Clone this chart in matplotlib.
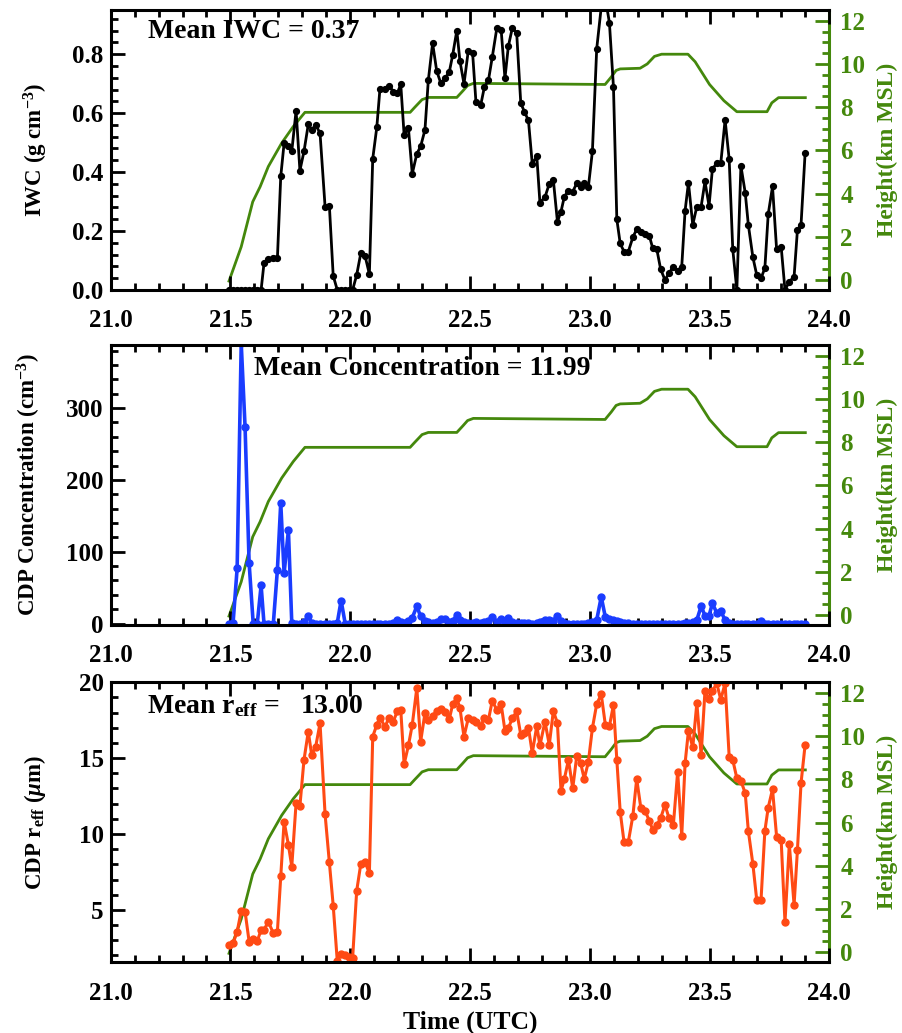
import numpy as np
import matplotlib
matplotlib.use("Agg")
import matplotlib.pyplot as plt
from matplotlib.ticker import MultipleLocator

plt.rcParams['font.family'] = ['Liberation Serif', 'DejaVu Serif']
plt.rcParams['font.weight'] = 'bold'
plt.rcParams['mathtext.fontset'] = 'custom'
plt.rcParams['mathtext.rm'] = 'Liberation Serif:bold'
plt.rcParams['mathtext.it'] = 'Liberation Serif:italic:bold'
plt.rcParams['mathtext.bf'] = 'Liberation Serif:bold'

# ---------------------------------------------------------------------------
# Datos (1 punto por minuto aprox.)
time_utc = [
    21.494, 21.511, 21.528, 21.545, 21.561, 21.578, 21.595, 21.612, 21.628, 21.640,
    21.658, 21.679, 21.696, 21.710, 21.724, 21.742, 21.756, 21.774, 21.790, 21.807,
    21.825, 21.839, 21.856, 21.874, 21.895, 21.913, 21.929, 21.946, 21.962, 21.979,
    21.995, 22.010, 22.027, 22.044, 22.062, 22.080, 22.094, 22.111, 22.124, 22.145,
    22.163, 22.180, 22.197, 22.211, 22.225, 22.243, 22.259, 22.278, 22.294, 22.312,
    22.326, 22.344, 22.361, 22.378, 22.396, 22.414, 22.428, 22.445, 22.458, 22.475,
    22.493, 22.511, 22.525, 22.545, 22.560, 22.577, 22.593, 22.612, 22.630, 22.646,
    22.660, 22.677, 22.695, 22.712, 22.727, 22.744, 22.760, 22.779, 22.792, 22.813,
    22.831, 22.848, 22.865, 22.880, 22.894, 22.911, 22.929, 22.946, 22.962, 22.977,
    22.994, 23.011, 23.029, 23.048, 23.065, 23.082, 23.099, 23.113, 23.127, 23.143,
    23.161, 23.180, 23.196, 23.213, 23.231, 23.249, 23.263, 23.280, 23.296, 23.314,
    23.331, 23.349, 23.367, 23.384, 23.398, 23.412, 23.430, 23.447, 23.465, 23.481,
    23.498, 23.512, 23.530, 23.547, 23.565, 23.582, 23.597, 23.614, 23.631, 23.649,
    23.662, 23.681, 23.697, 23.715, 23.731, 23.745, 23.763, 23.780, 23.799, 23.815,
    23.833, 23.853, 23.867, 23.882, 23.899]

iwc = [
    0, 0, 0, 0, 0, 0, 0, 0, 0, 0.090,
    0.104, 0.107, 0.107, 0.385, 0.498, 0.487, 0.470, 0.608, 0.405, 0.470,
    0.562, 0.543, 0.560, 0.532, 0.283, 0.285, 0.048, 0, 0, 0,
    0, 0, 0.051, 0.124, 0.115, 0.054, 0.445, 0.552, 0.681, 0.681,
    0.692, 0.673, 0.668, 0.698, 0.526, 0.549, 0.394, 0.462, 0.487, 0.543,
    0.711, 0.837, 0.743, 0.702, 0.718, 0.741, 0.798, 0.880, 0.777, 0.699,
    0.812, 0.803, 0.636, 0.628, 0.688, 0.711, 0.790, 0.888, 0.883, 0.718,
    0.826, 0.890, 0.871, 0.634, 0.605, 0.575, 0.428, 0.453, 0.296, 0.315,
    0.360, 0.373, 0.232, 0.266, 0.317, 0.337, 0.334, 0.362, 0.348, 0.362,
    0.348, 0.470, 0.818, 0.960, 0.990, 0.907, 0.688, 0.240, 0.158, 0.130,
    0.130, 0.179, 0.206, 0.198, 0.190, 0.183, 0.141, 0.138, 0.070, 0.034,
    0.057, 0.079, 0.066, 0.079, 0.269, 0.364, 0.221, 0.283, 0.283, 0.368,
    0.285, 0.410, 0.430, 0.430, 0.577, 0.444, 0.138, 0.0, 0.421, 0.330,
    0.221, 0.111, 0.051, 0.040, 0.074, 0.257, 0.351, 0.138, 0.147, 0.0,
    0.028, 0.045, 0.204, 0.221, 0.464]

cdp_conc = [
    0, 1, 77, 390, 274, 84, 0, 0, 53, 0,
    0, 0, 75, 168, 70, 130, 1, 0, 0, 2,
    10, 1, 0, 0, 0, 0, 0, 1, 32, 0,
    0, 0, 0, 0, 0, 0, 0, 0, 0, 0,
    0, 1, 5, 2, 1, 3, 8, 24, 10, 3,
    2, 1, 2, 6, 6, 2, 3, 12, 5, 2,
    1, 1, 2, 1, 2, 3, 9, 2, 7, 2,
    8, 2, 1, 1, 1, 1, 0, 1, 2, 5,
    5, 3, 11, 4, 1, 0, 0, 0, 0, 0,
    1, 2, 5, 37, 9, 6, 5, 3, 2, 1,
    1, 0, 0, 0, 0, 0, 0, 0, 0, 0,
    0, 0, 0, 0, 1, 1, 2, 5, 24, 11,
    11, 28, 15, 17, 5, 1, 0, 0, 0, 0,
    0, 0, 0, 3, 0, 0, 0, 0, 0, 0,
    0, 0, 0, 0, 0]

cdp_reff = [
    2.69, 2.80, 3.57, 4.93, 4.89, 2.91, 3.09, 2.95, 3.68, 3.68,
    4.23, 3.46, 3.57, 7.24, 10.82, 9.28, 7.85, 12.03, 11.85, 14.88,
    16.75, 15.21, 15.76, 17.30, 11.31, 8.14, 5.28, 1.63, 2.07, 2.00,
    1.90, 1.81, 6.25, 8.01, 8.14, 7.42, 16.42, 17.19, 17.67, 17.08,
    17.67, 17.41, 18.11, 18.18, 14.60, 15.83, 17.19, 19.61, 16.09, 17.96,
    17.52, 17.74, 18.11, 18.25, 18.03, 17.59, 18.56, 18.95, 18.29, 16.42,
    17.63, 17.52, 17.41, 17.13, 17.63, 17.52, 18.77, 18.18, 18.56, 16.80,
    16.97, 17.63, 18.07, 16.53, 16.64, 17.01, 15.33, 17.13, 15.83, 17.41,
    15.87, 18.11, 17.30, 12.84, 13.63, 14.88, 13.02, 15.17, 14.67, 13.63,
    14.73, 16.97, 18.56, 19.20, 17.20, 17.10, 18.51, 14.88, 11.48, 9.48,
    9.48, 11.20, 13.63, 11.74, 11.52, 10.86, 10.27, 10.60, 11.04, 11.92,
    11.04, 10.60, 14.11, 9.87, 14.67, 16.80, 15.70, 18.62, 15.21, 19.43,
    18.91, 19.39, 19.94, 18.85, 19.94, 15.10, 14.88, 13.68, 13.50, 12.69,
    10.20, 8.01, 5.66, 5.66, 10.20, 11.74, 12.95, 9.83, 9.61, 4.19,
    9.33, 5.33, 8.95, 13.35, 15.87]

# Altura del avion (km MSL)
alt_time = [21.494, 21.545, 21.593, 21.624, 21.658, 21.714, 21.762, 21.811,
            22.250, 22.270, 22.300, 22.326, 22.445, 22.470, 22.490, 22.514,
            23.064, 23.090, 23.110, 23.127, 23.210, 23.240, 23.270, 23.300,
            23.410, 23.440, 23.500, 23.560, 23.614, 23.740, 23.760, 23.788,
            23.900]
alt_km = [-0.05, 1.54, 3.62, 4.32, 5.25, 6.34, 7.10, 7.76,
          7.76, 8.00, 8.35, 8.45, 8.45, 8.75, 9.00, 9.10,
          9.05, 9.40, 9.70, 9.77, 9.80, 10.00, 10.35, 10.45,
          10.45, 10.10, 9.05, 8.30, 7.79, 7.79, 8.20, 8.44,
          8.44]

means = ['Mean IWC = 0.37', 'Mean Concentration = 11.99',
         'Mean r$_{\\mathregular{eff}}$ =   13.00']

# ---------------------------------------------------------------------------
verde = '#44880c'
fs = 18

fig = plt.figure(figsize=(9.02, 10.33), dpi=100)
pos = [[0.1227, 0.7193, 0.7967, 0.2711],
       [0.1227, 0.3950, 0.7967, 0.2711],
       [0.1227, 0.0685, 0.7967, 0.2711]]

series = [iwc, cdp_conc, cdp_reff]
colores = ['black', '#1a3cff', '#ff4a14']
anchos = [2.0, 2.6, 2.2]
marcas = [4.2, 5.0, 5.0]
ylims = [(0, 0.95), (-2, 388), (1.55, 20.0)]
majors = [0.2, 100, 5]
minors = [0.04, 20, 1]
ylabels = ['IWC (g cm$^{\\mathregular{-3}}$)',
           'CDP Concentration (cm$^{\\mathregular{-3}}$)',
           'CDP r$_{\\mathregular{eff}}$ ($\\mu$m)']
text_x = [0.052, 0.2, 0.051]
text_y = [0.899, 0.893, 0.889]
ylab_x = [-0.104, -0.114, -0.106]

for k in range(3):
    ax = fig.add_axes(pos[k])
    ax2 = ax.twinx()
    ax2.plot(alt_time, alt_km, color=verde, lw=2.0, zorder=1)
    ax2.set_ylim(-0.46, 12.5)
    ax2.yaxis.set_major_locator(MultipleLocator(2))
    ax2.yaxis.set_minor_locator(MultipleLocator(0.5))
    ax2.tick_params(axis='y', which='both', direction='in', colors=verde,
                    labelsize=fs, width=2, pad=8)
    ax2.tick_params(axis='y', which='major', length=10)
    ax2.tick_params(axis='y', which='minor', length=5)
    ax2.spines['right'].set_color(verde)
    ax2.spines['right'].set_linewidth(2.2)
    ax2.set_ylabel('Height(km MSL)', color=verde, fontsize=17,
                   fontweight='bold', rotation=90, va='center', ha='center')
    ax2.yaxis.set_label_coords(1.081, 0.5)

    # la serie principal por encima de la altura
    ax.set_zorder(ax2.get_zorder() + 1)
    ax.patch.set_visible(False)
    ax.plot(time_utc, series[k], color=colores[k], lw=anchos[k], marker='o',
            markersize=marcas[k])
    ax.set_xlim(21, 24)
    ax.set_ylim(*ylims[k])
    ax.xaxis.set_major_locator(MultipleLocator(0.5))
    ax.xaxis.set_minor_locator(MultipleLocator(0.1))
    ax.yaxis.set_major_locator(MultipleLocator(majors[k]))
    ax.yaxis.set_minor_locator(MultipleLocator(minors[k]))
    ax.xaxis.set_major_formatter(plt.FormatStrFormatter('%.1f'))
    if k == 0:
        ax.yaxis.set_major_formatter(plt.FormatStrFormatter('%.1f'))
    else:
        ax.yaxis.set_major_formatter(plt.FormatStrFormatter('%d'))
    ax.tick_params(which='both', direction='in', top=True, width=2,
                   labelsize=fs)
    ax.tick_params(which='major', length=10)
    ax.tick_params(which='minor', length=5)
    ax.tick_params(axis='x', pad=14)
    ax.tick_params(axis='y', pad=5)
    for s in ['left', 'top', 'bottom']:
        ax.spines[s].set_linewidth(2.2)
    ax.spines['right'].set_visible(False)
    ax2.spines['left'].set_visible(False)
    ax2.spines['top'].set_visible(False)
    ax2.spines['bottom'].set_visible(False)
    for lab in ax.get_xticklabels() + ax.get_yticklabels() + ax2.get_yticklabels():
        lab.set_fontweight('bold')

    ax.set_ylabel(ylabels[k], fontsize=16.5, fontweight='bold',
                  va='center', ha='center')
    ax.yaxis.set_label_coords(ylab_x[k], 0.5)
    ax.text(text_x[k], text_y[k], means[k], transform=ax.transAxes, fontsize=20,
            fontweight='bold', va='baseline', ha='left')

    if k == 2:
        ax.set_xlabel('Time (UTC)', fontsize=18.5, fontweight='bold')

plt.savefig('out.png', dpi=100)
